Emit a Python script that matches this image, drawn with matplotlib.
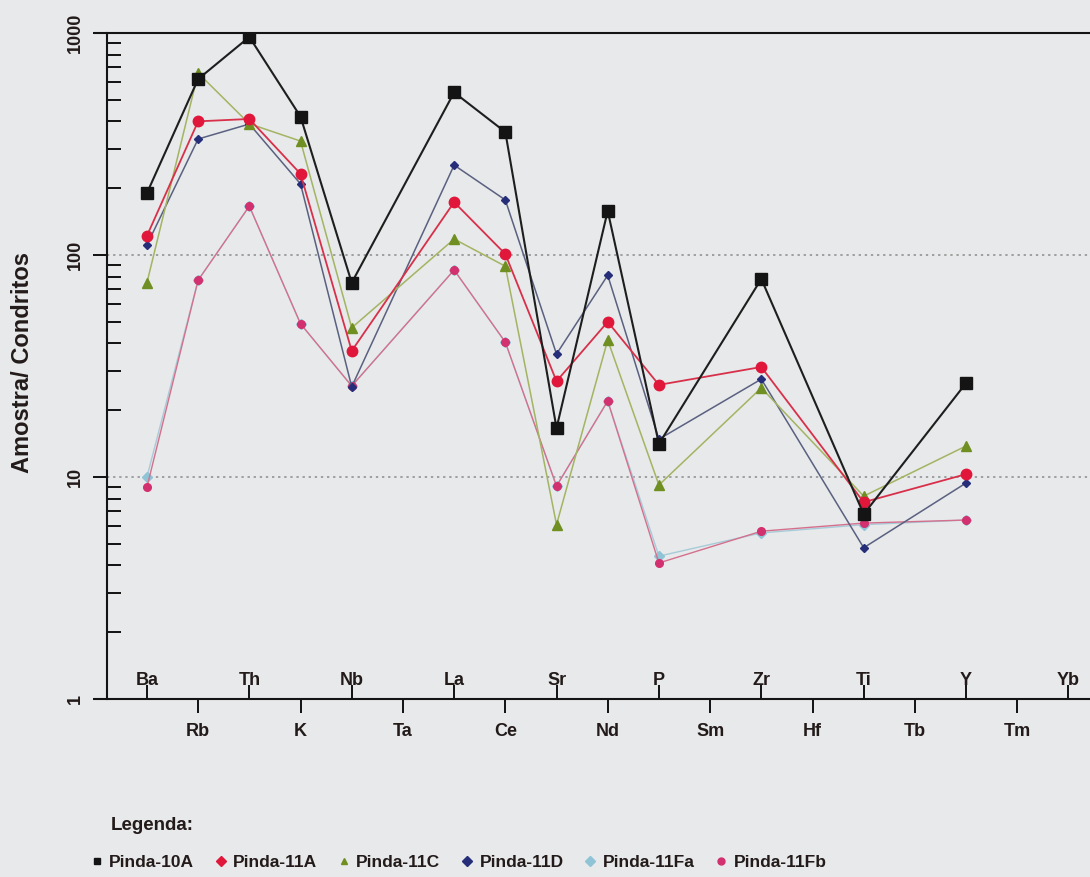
import numpy as np
import matplotlib
matplotlib.use("Agg")
from matplotlib import pyplot as plt
from matplotlib.lines import Line2D
from matplotlib.ticker import FixedLocator, NullFormatter

plt.rcParams['font.family'] = ['Liberation Sans', 'DejaVu Sans']

# elements of the spider diagram (normalised to chondrite)
elements = ['Ba', 'Rb', 'Th', 'K', 'Nb', 'Ta', 'La', 'Ce', 'Sr', 'Nd',
            'P', 'Sm', 'Zr', 'Hf', 'Ti', 'Tb', 'Y', 'Tm', 'Yb']
nan = np.nan

pinda_10a = [190, 620, 960, 420, 75, nan, 540, 358, 16.6, 158,
             14.1, nan, 78, nan, 6.8, nan, 26.5, nan, nan]
pinda_11a = [122, 400, 410, 232, 37, nan, 173, 101, 27, 50,
             26, nan, 31.3, nan, 7.7, nan, 10.3, nan, nan]
pinda_11c = [75, 660, 390, 326, 47, nan, 118, 89, 6.1, 41.4,
             9.2, nan, 25.2, nan, 8.2, nan, 13.8, nan, nan]
pinda_11d = [111, 333, 389, 209, 25.5, nan, 254, 177, 35.8, 81,
             14.8, nan, 27.6, nan, 4.8, nan, 9.4, nan, nan]
pinda_11fa = [10, 77, 166, 49, 25.7, nan, 85.6, 40.5, 9.1, 22,
              4.4, nan, 5.6, nan, 6.1, nan, 6.4, nan, nan]
pinda_11fb = [9.0, 77, 166, 49, 25.7, nan, 85.6, 40.5, 9.1, 22,
              4.1, nan, 5.7, nan, 6.2, nan, 6.4, nan, nan]

samples = ['Pinda-10A', 'Pinda-11A', 'Pinda-11C', 'Pinda-11D', 'Pinda-11Fa', 'Pinda-11Fb']
series = [pinda_10a, pinda_11a, pinda_11c, pinda_11d, pinda_11fa, pinda_11fb]

# style per sample: (marker colour, line colour, marker, size, linewidth, zorder)
styles = {
    'Pinda-10A': ('#141414', '#1e1e1e', 's', 8, 1.5, 8),
    'Pinda-11A': ('#e0173a', '#d8304a', 'o', 7.5, 1.3, 7),
    'Pinda-11C': ('#6f8f22', '#a3b462', '^', 7.5, 1.1, 6),
    'Pinda-11D': ('#262e7a', '#5a6080', 'D', 4.5, 1.1, 5),
    'Pinda-11Fa': ('#8fc3d6', '#a8cbd8', 'D', 5, 1.0, 3),
    'Pinda-11Fb': ('#d2306e', '#d4708e', 'o', 5.5, 1.0, 4),
}
legend_markers = {'Pinda-10A': 's', 'Pinda-11A': 'D', 'Pinda-11C': '^',
                  'Pinda-11D': 'D', 'Pinda-11Fa': 'D', 'Pinda-11Fb': 'o'}

bg = '#e7e9ea'
txt = '#231a1a'

fig = plt.figure(figsize=(10.9, 8.77), dpi=100, facecolor=bg)
ax = fig.add_axes([107 / 1090, 178 / 877, 1 - 107 / 1090, 666 / 877])
ax.set_facecolor(bg)

x = np.arange(len(elements))
for name, vals in zip(samples, series):
    vals = np.array(vals, dtype=float)
    ok = ~np.isnan(vals)
    mc, lc, mk, ms, lw, z = styles[name]
    ax.plot(x[ok], vals[ok], color=lc, lw=lw, zorder=z)
    ax.plot(x[ok], vals[ok], linestyle='none', marker=mk, markersize=ms,
            markerfacecolor=mc, markeredgecolor=mc, zorder=z + 0.5)

ax.set_yscale('log')
ax.set_ylim(1, 1000)
ax.set_xlim(-0.78, 18.42)

# y axis: major ticks outward, minor ticks inward, rotated labels
ax.yaxis.set_major_locator(FixedLocator([1, 10, 100, 1000]))
ax.set_yticklabels(['1', '10', '100', '1000'], rotation=90, va='center',
                   fontsize=13, fontweight='bold', color=txt)
ax.tick_params(axis='y', which='major', direction='out', length=10, width=1.3, pad=7)
ax.tick_params(axis='y', which='minor', direction='in', length=10, width=1.3)
ax.yaxis.set_minor_formatter(NullFormatter())
ax.set_ylabel('Amostra/ Condritos', fontsize=17, fontweight='bold', color=txt)
ax.yaxis.set_label_coords(-0.074, 0.505)

# dotted guide lines at 10 and 100
for v in [10, 100]:
    ax.axhline(v, color='#8a8a8a', lw=1.1, ls=(0, (1.5, 2.5)), zorder=1)

# x axis: even elements above (ticks in), odd elements below (ticks out)
ax.xaxis.set_major_locator(FixedLocator(x[::2]))
ax.xaxis.set_minor_locator(FixedLocator(x[1::2]))
ax.set_xticklabels([])
ax.xaxis.set_minor_formatter(plt.FixedFormatter(elements[1::2]))
ax.tick_params(axis='x', which='major', direction='in', length=10, width=1.3)
ax.tick_params(axis='x', which='minor', direction='out', length=10, width=1.3, pad=7,
               labelsize=13)
for lab in ax.xaxis.get_minorticklabels():
    lab.set_fontweight('bold')
    lab.set_color(txt)
for i in x[::2]:
    ax.text(i, 0.028, elements[i], transform=ax.get_xaxis_transform(), ha='center',
            va='center', fontsize=13, fontweight='bold', color=txt)

for s in ['left', 'bottom', 'top']:
    ax.spines[s].set_linewidth(1.5)
    ax.spines[s].set_color('#141414')
ax.spines['right'].set_visible(False)
ax.spines['bottom'].set_bounds(-1.02, 18.42)
ax.spines['top'].set_bounds(-1.02, 18.42)

# legend
fig.text(111 / 1090, 1 - 826 / 877, 'Legenda:', fontsize=13.5, fontweight='bold',
         color=txt, va='center')
handles = [Line2D([], [], linestyle='none', marker=legend_markers[n], color=styles[n][0],
                  markersize=5) for n in samples]
fig.legend(handles, samples, loc='center left', bbox_to_anchor=(76 / 1090, 1 - 862 / 877),
           ncol=6, frameon=False, handlelength=0.6, handletextpad=0.4, columnspacing=1.25,
           prop={'size': 12.5, 'weight': 'bold'}, labelcolor=txt)

fig.savefig('out.png', dpi=100, facecolor=bg)
